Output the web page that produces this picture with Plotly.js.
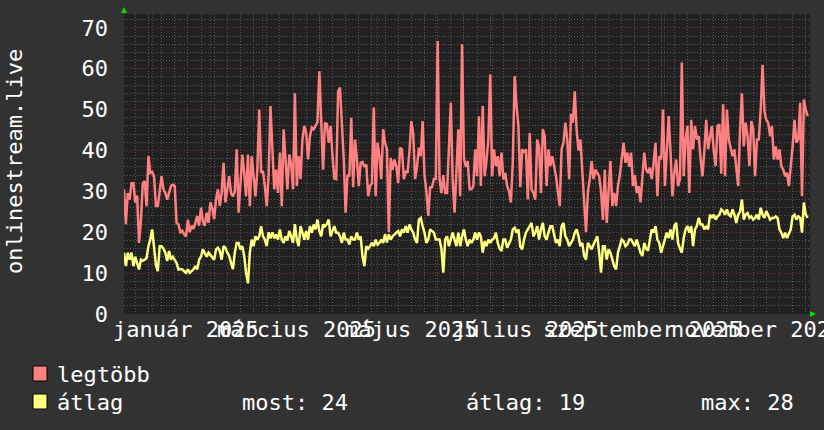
<!DOCTYPE html>
<html>
<head>
<meta charset="utf-8">
<script src="https://cdn.plot.ly/plotly-3.0.1.min.js"></script>
<style>
html,body{margin:0;padding:0;background:#323232;}
#chart{width:824px;height:430px;}
</style>
</head>
<body>
<div id="chart"></div>
<script>
// ---- data: daily values, first day 2024-12-17 ----
const startDate = '2024-12-17';

// legtöbb (max) per month
const redDec24 = [30.5, 22, 29.6, 28, 32, 32, 27.3, 29, 17.4, 22.7, 32, 32.5, 26.4, 38.6, 34.5];
const redJan = [34.8, 33.7, 26.4, 26.4, 30, 33.7, 30.5, 29.6, 28, 30, 31.3, 31.6, 31.3, 22.3, 21.9, 20, 20.4, 19.5, 19, 23, 20, 21.6, 20.8, 22.3, 24, 21.6, 26, 22.7, 21.6, 24.8, 22.3];
const redFeb = [27.3, 26, 23.2, 28, 30.5, 26.4, 29.6, 37, 27.3, 31, 33.7, 29.6, 28.8, 30, 40.3, 24.8, 33.7, 39, 34.5, 28.8, 39, 26.4, 38.6, 33, 28.8, 35.3, 50, 34.5];
const redMar = [35, 31.3, 26.4, 34, 50.9, 40.3, 30.5, 35.3, 29.6, 39.5, 26.4, 45.2, 36.2, 30.5, 39, 36.6, 30.5, 54, 31.3, 38.6, 33, 42.7, 46, 44.3, 37.8, 43.5, 45.6, 45.2, 46, 47, 59.4];
const redApr = [47.2, 35.3, 46.8, 46.5, 41.9, 46, 38.6, 33.2, 33, 54.5, 55.4, 46.8, 37.8, 24.8, 34, 33.7, 48, 31, 42.7, 37.8, 31.3, 37, 37.2, 36, 36.6, 28.8, 31.3, 32, 50.5, 28.8];
const redMay = [41.9, 38.6, 33, 45.2, 41.9, 40.3, 20, 38.2, 35.3, 37.8, 36.2, 32, 40.7, 40.3, 33, 35, 34.5, 40, 47.2, 44, 33, 36, 40.7, 38.6, 47.2, 34, 30, 24, 31, 31, 33];
const redJun = [33, 66.8, 33, 29.6, 34, 29.6, 29.6, 40, 51.7, 33, 24.8, 35, 45.2, 28.8, 66, 38, 36, 37.4, 30.5, 30.5, 31.3, 40.3, 33.7, 48.4, 31.3, 50.9, 33.7, 37.5, 42.7, 58.6];
const redJul = [33.7, 40.3, 36.2, 38.6, 33.7, 39.5, 32.9, 34.5, 31.3, 30, 27.3, 37, 58.2, 50.9, 46, 31, 40.3, 39.5, 40.3, 28, 44.3, 30.5, 29.6, 28, 42.7, 41, 29.6, 45.2, 43.5, 31.3, 40.3];
const redAug = [36.2, 38.6, 36.2, 33.7, 30, 26.4, 40.3, 41.9, 46.8, 42.7, 33, 49, 46.8, 54.5, 45, 40, 42.7, 35, 25, 20, 30, 33, 37.4, 33, 35.3, 34.5, 33.7, 30, 23, 35.3, 22.3];
const redSep = [30, 37.4, 26.4, 29.6, 26.4, 31.3, 34, 38, 41.9, 37, 39.5, 36, 39.5, 31.3, 34, 29.6, 31.3, 27.3, 33, 39.5, 35.3, 34.5, 35.8, 33, 37, 41.9, 28.8, 38.6, 37.8, 50];
const redOct = [31.3, 38.6, 48.4, 39.5, 28.8, 34.5, 37.8, 31.3, 33, 61.5, 33.7, 42.7, 46, 29.6, 47.5, 40.3, 46, 42.7, 43.5, 38, 33.7, 40, 47.5, 40.3, 42.7, 46, 40, 36.2, 46, 46.4, 34.3];
const redNov = [51.3, 33.7, 50, 42.7, 40.3, 38.6, 40.3, 36, 31.3, 45, 54, 41, 46.8, 43.5, 36.2, 47.2, 45.2, 33.7, 42.7, 42.7, 50, 61, 49.5, 47.5, 46.8, 43.5, 46, 37.8, 41, 37.8];
const redDec25 = [40.3, 36.2, 35.3, 33.7, 34.5, 31.3, 36, 41, 47.5, 41.9, 42.7, 51.7, 28.8, 52.5, 50, 48.4];

// átlag (average) per month
const yelDec24 = [15, 11.7, 15, 13.3, 15, 11.7, 14, 12.5, 10.9, 13.3, 13, 13.3, 13.7, 16.6, 18.2];
const yelJan = [20.7, 16.6, 12, 10.5, 16.6, 16.6, 16, 15, 13, 15.4, 13.3, 14, 13.3, 12.5, 10.9, 11, 10.9, 10.5, 10.1, 10.9, 10.1, 10.5, 10.9, 11.7, 10.9, 13.3, 14, 15.8, 15, 14, 15];
const yelFeb = [14.5, 14, 13.3, 15.8, 16.2, 15.4, 13.3, 16.6, 16.2, 15, 14.2, 12.5, 11, 15, 17.4, 17.4, 15.8, 16.6, 14.2, 10.1, 7.5, 15, 18.2, 16.6, 19, 18.2, 19, 21.5];
const yelMar = [19, 18.2, 16.6, 20, 18.5, 20, 18.5, 19.5, 18.2, 20.7, 18.2, 17.4, 19, 18, 20.3, 19, 17.4, 22, 18.2, 16.6, 21.5, 19.9, 18.2, 20.3, 18.2, 21.5, 19.9, 21.9, 20.7, 23.1, 20.3];
const yelApr = [19, 21.9, 21.5, 22, 23.1, 19, 20.3, 21.5, 19.9, 19.9, 19, 17.4, 19.9, 18.2, 18.2, 17, 19, 18.2, 18.2, 19.9, 18.2, 19, 14, 11.7, 16.6, 16, 16.6, 17.4, 16.6, 18.2];
const yelMay = [17, 17.4, 18.2, 17.4, 19.5, 17.5, 19.5, 18.2, 19, 19.5, 19.9, 20.3, 19, 20.7, 19.9, 21.5, 19.9, 21.9, 20.7, 19.9, 18.2, 17.4, 23.1, 23.5, 21.5, 19.9, 17.4, 18.2, 20.7, 20.3, 19.9];
const yelJun = [18.2, 18.2, 18.2, 16, 10.1, 18.2, 19, 16.6, 18.2, 19.9, 18.2, 16.6, 19.9, 16.6, 19, 20.7, 18.2, 16.6, 18.2, 17.4, 18.2, 19.9, 18.2, 19.9, 19, 15, 17.8, 16.6, 18.2, 17.4];
const yelJul = [18.2, 18.5, 19.9, 17.4, 16, 15.4, 18.2, 18.2, 16.2, 17.4, 18.2, 20.7, 21.1, 19.9, 20.7, 16.5, 15.8, 18.2, 19.9, 20.7, 21.5, 22.3, 19, 19.9, 21.5, 18.2, 20.7, 22.3, 19, 18.2, 19.9];
const yelAug = [21.5, 21.5, 19.5, 17.4, 18.2, 16.6, 21.5, 22.3, 19, 18.2, 16.6, 17.4, 18.2, 19.9, 20.7, 19, 16.6, 17.4, 14.2, 13.3, 17.4, 16.6, 15.8, 17, 18.2, 19, 15, 10.1, 16.6, 16.6, 13.3];
const yelSep = [15.8, 15, 13, 11.7, 10.9, 15, 16.6, 18.2, 17.8, 16.6, 17, 18.2, 18.2, 17.4, 16.6, 18.2, 16.6, 15, 14.2, 17.4, 16, 15.5, 18.2, 20.7, 19.9, 21.5, 18.2, 17.4, 15, 16.6];
const yelOct = [18.2, 19.9, 18.6, 20.7, 18.2, 21.5, 22.3, 17.4, 16, 15, 18.6, 20.7, 21.5, 19.9, 21.5, 16.6, 20.7, 21.5, 23.5, 21.9, 21.9, 20.7, 21.5, 20.7, 24.3, 23.5, 24.3, 23.1, 23.9, 24.3, 25.6];
const yelNov = [25.2, 24.3, 25.6, 24.3, 23.9, 25.6, 24.3, 22.3, 24.3, 25, 28, 23.1, 24.3, 24.7, 23.5, 23.9, 23.1, 23.5, 24.3, 23.1, 26, 24.3, 23.5, 25.2, 24.3, 23.1, 23.5, 23.5, 23.9, 23.5];
const yelDec25 = [20.7, 19.9, 18.6, 19.9, 18.6, 19.9, 20.7, 23.9, 24.3, 23.1, 23.9, 23.5, 19.9, 27.3, 24.3, 23.5];

// axis / legend texts
const yTickVals = [0, 10, 20, 30, 40, 50, 60, 70];
const monthLabels = ['január 2025', 'március 2025', 'május 2025', 'július 2025', 'szeptember 2025', 'november 2025'];
const monthLabelDates = ['2025-01-19', '2025-03-19', '2025-05-19', '2025-07-19', '2025-09-19', '2025-11-19'];
const yTitle = 'onlinestream.live';
const seriesNames = ['legtöbb', 'átlag'];
const statTexts = ['most: 24', 'átlag: 19', 'max: 28'];

// ---- build ----
const redVals = [].concat(redDec24, redJan, redFeb, redMar, redApr, redMay, redJun, redJul, redAug, redSep, redOct, redNov, redDec25);
const yelVals = [].concat(yelDec24, yelJan, yelFeb, yelMar, yelApr, yelMay, yelJun, yelJul, yelAug, yelSep, yelOct, yelNov, yelDec25);
const t0 = Date.parse(startDate + 'T00:00:00Z');
const dates = redVals.map((_, i) => new Date(t0 + i * 86400000).toISOString().slice(0, 10));

const W = 824, H = 430, L = 124, R = 14, T = 14, B = 116;
const pw = W - L - R, ph = H - T - B;
const px = x => (x - L) / pw;
const py = y => (H - B - y) / ph;

const FONT = 'DejaVu Sans Mono';
const fs = 22;

const traces = [
  {x: dates, y: redVals, type: 'scatter', mode: 'lines', line: {color: '#ff8080', width: 2.5}, name: seriesNames[0]},
  {x: dates, y: yelVals, type: 'scatter', mode: 'lines', line: {color: '#ffff80', width: 2.5}, name: seriesNames[1]}
];

const annotations = [];
monthLabels.forEach((t, i) => {
  annotations.push({x: monthLabelDates[i], xref: 'x', y: py(330), yref: 'paper', text: t,
    showarrow: false, xanchor: 'center', yanchor: 'middle', font: {family: FONT, size: fs, color: '#ffffff'}});
});
annotations.push({x: px(14), y: py(162), xref: 'paper', yref: 'paper', text: yTitle, textangle: -90,
  showarrow: false, xanchor: 'center', yanchor: 'middle', font: {family: FONT, size: fs, color: '#ffffff'}});
annotations.push({x: px(55), y: py(374), xref: 'paper', yref: 'paper', text: seriesNames[0], showarrow: false,
  xanchor: 'left', yanchor: 'middle', font: {family: FONT, size: fs, color: '#ffffff'}});
annotations.push({x: px(55), y: py(402), xref: 'paper', yref: 'paper', text: seriesNames[1], showarrow: false,
  xanchor: 'left', yanchor: 'middle', font: {family: FONT, size: fs, color: '#ffffff'}});
[240, 464, 699].forEach((xx, i) => {
  annotations.push({x: px(xx), y: py(402), xref: 'paper', yref: 'paper', text: statTexts[i], showarrow: false,
    xanchor: 'left', yanchor: 'middle', font: {family: FONT, size: fs, color: '#ffffff'}});
});

const shapes = [
  {type: 'rect', xref: 'paper', yref: 'paper', x0: px(33), x1: px(47), y0: py(366), y1: py(381), fillcolor: '#ff8080', line: {color: '#000000', width: 1}},
  {type: 'rect', xref: 'paper', yref: 'paper', x0: px(33), x1: px(47), y0: py(394), y1: py(409), fillcolor: '#ffff80', line: {color: '#000000', width: 1}},
  {type: 'path', xref: 'paper', yref: 'paper', path: `M ${px(121)} ${py(13)} L ${px(127)} ${py(13)} L ${px(124)} ${py(7)} Z`, fillcolor: '#00e000', line: {width: 0}},
  {type: 'path', xref: 'paper', yref: 'paper', path: `M ${px(810)} ${py(311)} L ${px(810)} ${py(317)} L ${px(816)} ${py(314)} Z`, fillcolor: '#00e000', line: {width: 0}}
];

const layout = {
  width: W, height: H,
  margin: {l: L, r: R, t: T, b: B, pad: 0},
  paper_bgcolor: '#323232',
  plot_bgcolor: '#212121',
  showlegend: false,
  font: {family: FONT, size: fs, color: '#ffffff'},
  xaxis: {
    type: 'date',
    range: ['2024-12-17', '2025-12-17 06:00'],
    showticklabels: false, ticks: '',
    tick0: '2025-01-01', dtick: 'M1',
    showgrid: true, gridcolor: '#7a3636', griddash: '1px,2px', gridwidth: 1,
    minor: {tick0: '2024-12-23', dtick: 7 * 86400000, showgrid: true, gridcolor: '#5a5a5a', griddash: '1px,2px', gridwidth: 1},
    zeroline: false, showline: false
  },
  yaxis: {
    range: [0, 73.4],
    tickvals: yTickVals,
    ticks: '', ticklabelstandoff: 15,
    tickfont: {family: FONT, size: fs, color: '#ffffff'},
    showgrid: true, gridcolor: '#7a3636', griddash: '1px,2px', gridwidth: 1,
    minor: {dtick: 2, showgrid: true, gridcolor: '#5a5a5a', griddash: '1px,2px', gridwidth: 1},
    zeroline: false, showline: false
  },
  annotations: annotations,
  shapes: shapes
};

Plotly.newPlot('chart', traces, layout, {staticPlot: true, displayModeBar: false});
</script>
</body>
</html>
